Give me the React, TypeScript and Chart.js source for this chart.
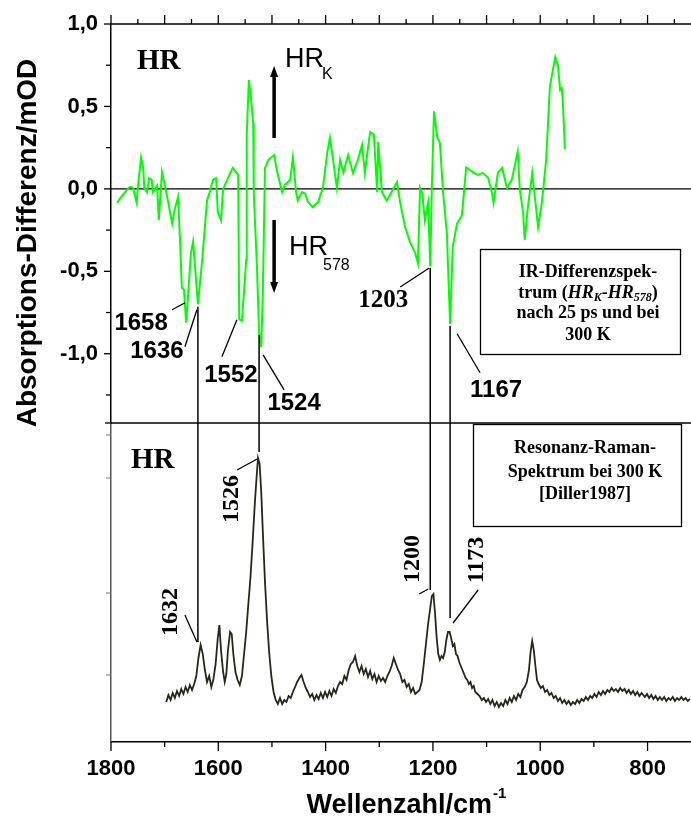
import React, { useEffect, useRef } from "react";
import { Chart, registerables } from "chart.js";

Chart.register(...registerables);

// IR difference spectrum (HR_K - HR_578): [wavenumber, mOD]
const irPoints: number[][] = [
  [1789, -0.085], [1778, -0.036], [1765, 0.012], [1759, 0.006], [1752, -0.085], [1750, 0.01],
  [1744, 0.19], [1740, 0.13], [1738, 0.006], [1733, -0.02], [1729, 0.065], [1724, 0.055],
  [1722, -0.02], [1714, 0.02], [1711, -0.19], [1705, 0.1], [1699, 0.01], [1694, -0.07],
  [1686, -0.21], [1681, -0.12], [1675, -0.05], [1671, -0.34], [1668, -0.6], [1664, -0.61],
  [1660, -0.81], [1657, -0.68], [1651, -0.39], [1647, -0.32], [1642, -0.53], [1638, -0.7],
  [1630, -0.43], [1621, -0.07], [1616, -0.02], [1610, 0.055], [1604, 0.065], [1601, -0.14],
  [1595, -0.19], [1591, 0.0], [1582, 0.065], [1573, 0.127], [1563, 0.085], [1561, -0.79],
  [1556, -0.8], [1552, -0.62], [1548, -0.43], [1547, 0.33], [1543, 0.66], [1539, 0.55],
  [1535, 0.4], [1534, -0.02], [1528, -0.47], [1524, -0.87], [1520, -0.96], [1517, -0.63],
  [1513, 0.127], [1507, 0.175], [1496, 0.205], [1491, 0.115], [1489, 0.085], [1481, -0.02],
  [1476, 0.024], [1466, 0.055], [1461, 0.19], [1455, -0.02], [1452, -0.07], [1444, -0.02],
  [1438, -0.03], [1433, -0.08], [1424, -0.11], [1414, -0.08], [1405, 0.006], [1397, 0.22],
  [1392, 0.31], [1386, 0.175], [1379, 0.006], [1373, 0.175], [1367, 0.1], [1358, 0.205],
  [1349, 0.095], [1340, 0.175], [1332, 0.267], [1327, 0.1], [1317, 0.345], [1310, 0.33],
  [1304, -0.02], [1302, 0.285], [1295, -0.02], [1286, -0.07], [1280, -0.036], [1267, 0.04],
  [1261, -0.085], [1252, -0.23], [1243, -0.32], [1233, -0.39], [1228, -0.45], [1224, 0.006],
  [1220, -0.024], [1215, -0.19], [1209, -0.085], [1205, -0.47], [1202, 0.012], [1198, 0.47],
  [1192, 0.315], [1187, 0.28], [1181, -0.024], [1174, -0.27], [1168, -0.82], [1163, -0.35],
  [1155, -0.21], [1146, -0.16], [1138, 0.13], [1131, 0.115], [1125, 0.1], [1116, 0.085],
  [1107, 0.097], [1097, 0.067], [1090, -0.024], [1087, -0.085], [1079, 0.097], [1071, 0.127],
  [1062, 0.006], [1053, 0.055], [1042, 0.225], [1038, -0.006], [1032, -0.14], [1029, -0.31],
  [1023, -0.11], [1015, 0.097], [1010, -0.048], [1004, -0.23], [997, -0.085], [989, 0.175],
  [982, 0.62], [972, 0.8], [967, 0.75], [963, 0.6], [960, 0.61], [958, 0.54], [954, 0.24],
];

// Resonance Raman spectrum (arbitrary intensity): [wavenumber, intensity]
const ramanPoints: number[][] = [
  [1697, 40], [1693, 47], [1689, 42], [1685, 49], [1681, 44], [1677, 51], [1673, 46], [1669, 53],
  [1665, 48], [1661, 55], [1657, 50], [1653, 57], [1649, 52], [1645, 58], [1641, 66], [1637, 84],
  [1633, 97], [1629, 88], [1625, 72], [1621, 60], [1617, 66], [1613, 55], [1609, 63], [1605, 78],
  [1601, 104], [1598, 117], [1595, 92], [1591, 70], [1588, 60], [1585, 68], [1582, 92], [1578, 110],
  [1575, 108], [1572, 88], [1568, 70], [1564, 62], [1560, 57], [1556, 66], [1552, 88], [1548, 110],
  [1544, 138], [1540, 165], [1536, 200], [1532, 238], [1529, 262], [1526, 284], [1523, 278], [1520, 250],
  [1517, 210], [1513, 160], [1509, 120], [1505, 88], [1501, 65], [1497, 50], [1493, 42], [1489, 38],
  [1485, 44], [1481, 38], [1477, 42], [1473, 40], [1469, 46], [1465, 44], [1461, 50], [1457, 55],
  [1453, 60], [1449, 64], [1445, 67], [1441, 60], [1437, 54], [1433, 50], [1429, 45], [1425, 48],
  [1421, 42], [1417, 47], [1413, 43], [1409, 49], [1405, 44], [1401, 50], [1397, 45], [1393, 51],
  [1389, 46], [1385, 53], [1381, 49], [1377, 56], [1373, 60], [1369, 58], [1365, 66], [1361, 62],
  [1357, 72], [1353, 78], [1349, 80], [1345, 86], [1341, 76], [1337, 70], [1333, 76], [1329, 68],
  [1325, 73], [1321, 65], [1317, 71], [1313, 63], [1309, 68], [1305, 60], [1301, 66], [1297, 61],
  [1293, 64], [1289, 60], [1285, 66], [1281, 70], [1277, 76], [1273, 84], [1269, 78], [1265, 72],
  [1261, 68], [1257, 60], [1253, 62], [1249, 55], [1245, 58], [1241, 50], [1237, 54], [1233, 48],
  [1229, 50], [1225, 52], [1221, 60], [1217, 78], [1213, 98], [1209, 118], [1205, 134], [1202, 146],
  [1199, 148], [1196, 128], [1193, 104], [1190, 88], [1187, 82], [1184, 86], [1181, 84], [1178, 90],
  [1175, 102], [1172, 110], [1169, 110], [1166, 104], [1163, 96], [1160, 98], [1157, 88], [1154, 86],
  [1151, 80], [1148, 76], [1145, 72], [1142, 68], [1139, 64], [1136, 62], [1133, 58], [1130, 60],
  [1127, 54], [1124, 56], [1121, 50], [1117, 48], [1113, 46], [1109, 42], [1105, 44], [1101, 40],
  [1097, 43], [1093, 38], [1089, 42], [1085, 36], [1081, 40], [1077, 35], [1073, 39], [1069, 36],
  [1065, 42], [1061, 38], [1057, 44], [1053, 40], [1049, 46], [1045, 42], [1041, 48], [1037, 45],
  [1033, 52], [1029, 55], [1025, 60], [1021, 72], [1018, 90], [1015, 101], [1012, 92], [1009, 76],
  [1006, 62], [1003, 58], [999, 54], [995, 56], [991, 50], [987, 52], [983, 47], [979, 49],
  [975, 44], [971, 46], [967, 41], [963, 44], [959, 39], [955, 42], [951, 38], [947, 41],
  [943, 37], [939, 40], [935, 38], [931, 42], [927, 39], [923, 43], [919, 41], [915, 45],
  [911, 42], [907, 46], [903, 44], [899, 48], [895, 45], [891, 50], [887, 47], [883, 51],
  [879, 48], [875, 52], [871, 50], [867, 54], [863, 51], [859, 53], [855, 50], [851, 54],
  [847, 51], [843, 53], [839, 49], [835, 52], [831, 48], [827, 51], [823, 47], [819, 50],
  [815, 46], [811, 49], [805, 45], [801, 48], [797, 44], [793, 47], [789, 43], [785, 46],
  [781, 42], [777, 45], [773, 42], [769, 45], [765, 41], [761, 44], [757, 42], [753, 45],
  [749, 41], [745, 44], [741, 42], [737, 45], [733, 42], [729, 44], [725, 41], [721, 43],
];

const xLabelValues = [1800, 1600, 1400, 1200, 1000, 800];
const yLabelValues = [1.0, 0.5, 0, -0.5, -1.0];
const ramanAxisTicks = [67, 149, 264, 307];

// Connector lines: wavenumber, IR value, Raman intensity
const connectorWave = [1638, 1524, 1205, 1168];
const connectorIr = [-0.715, -0.885, -0.48, -0.83];
const connectorRaman = [100, 290, 152, 124];

const irPeakLabels = ["1658", "1636", "1552", "1524", "1203", "1167"];
const ramanPeakLabels = ["1632", "1526", "1200", "1173"];

const SANS = '"Liberation Sans", Arial, sans-serif';
const SERIF = '"Liberation Serif", "Times New Roman", serif';

function line(ctx: CanvasRenderingContext2D, x1: number, y1: number, x2: number, y2: number, w = 1.3, c = "#000") {
  ctx.save();
  ctx.strokeStyle = c;
  ctx.lineWidth = w;
  ctx.beginPath();
  ctx.moveTo(x1, y1);
  ctx.lineTo(x2, y2);
  ctx.stroke();
  ctx.restore();
}

function text(ctx: CanvasRenderingContext2D, s: string, x: number, y: number, font: string, align: CanvasTextAlign = "center", rot = 0) {
  ctx.save();
  ctx.translate(x, y);
  if (rot) ctx.rotate(rot);
  ctx.font = font;
  ctx.fillStyle = "#000";
  ctx.textAlign = align;
  ctx.textBaseline = "middle";
  ctx.fillText(s, 0, 0);
  ctx.restore();
}

function richLine(ctx: CanvasRenderingContext2D, parts: { t: string; f: string; dy?: number }[], cx: number, cy: number) {
  ctx.save();
  ctx.fillStyle = "#000";
  ctx.textBaseline = "alphabetic";
  ctx.textAlign = "left";
  let total = 0;
  for (const p of parts) {
    ctx.font = p.f;
    total += ctx.measureText(p.t).width;
  }
  let x = cx - total / 2;
  for (const p of parts) {
    ctx.font = p.f;
    ctx.fillText(p.t, x, cy + (p.dy || 0));
    x += ctx.measureText(p.t).width;
  }
  ctx.restore();
}

function arrow(ctx: CanvasRenderingContext2D, x: number, yFrom: number, yTip: number) {
  const dir = yTip > yFrom ? 1 : -1;
  ctx.save();
  ctx.strokeStyle = "#000";
  ctx.fillStyle = "#000";
  ctx.lineWidth = 3.5;
  ctx.beginPath();
  ctx.moveTo(x, yFrom);
  ctx.lineTo(x, yTip - dir * 8);
  ctx.stroke();
  ctx.beginPath();
  ctx.moveTo(x, yTip);
  ctx.lineTo(x - 4, yTip - dir * 11);
  ctx.lineTo(x + 4, yTip - dir * 11);
  ctx.closePath();
  ctx.fill();
  ctx.restore();
}

const overlay = {
  id: "overlay",
  beforeDatasetsDraw(chart: any) {
    const { ctx, chartArea: a, scales } = chart;
    const y = scales.y;
    const y0 = y.getPixelForValue(0);
    line(ctx, a.left, y0, a.right, y0, 1.4);
    line(ctx, a.left, y.bottom, a.right, y.bottom, 1.6);
  },
  afterDatasetsDraw(chart: any) {
    const { ctx, chartArea: a, scales } = chart;
    const x = scales.x, y = scales.y, y2 = scales.y2;
    const X = (w: number) => x.getPixelForValue(w);
    const Y = (v: number) => y.getPixelForValue(v);
    const R = (r: number) => y2.getPixelForValue(r);

    // top axis line + ticks (upward)
    line(ctx, a.left, a.top, a.right, a.top, 1.5);
    for (let w = 1800; w >= x.min; w -= 50) {
      const px = X(w);
      const len = w % 100 === 0 ? 9 : 5;
      line(ctx, px, a.top, px, a.top - len, 1.3);
    }
    // bottom axis ticks (downward)
    for (let w = 1800; w >= x.min; w -= 100) {
      const px = X(w);
      const len = w % 200 === 0 ? 9 : 5;
      line(ctx, px, a.bottom, px, a.bottom + len, 1.3);
    }
    // left axis ticks (top panel)
    for (let v = 1.0; v >= -1.3; v -= 0.25) {
      const py = Y(v);
      const major = Math.abs(v * 2 - Math.round(v * 2)) < 1e-6;
      line(ctx, a.left, py, a.left - (major ? 7 : 5), py, 1.3);
    }
    line(ctx, a.left, y.bottom, a.left - 6, y.bottom, 1.3);
    // left axis faint ticks (bottom panel)
    for (const t of ramanAxisTicks) {
      const py = R(t);
      line(ctx, a.left, py, a.left - 5, py, 1, "#777");
    }

    // axis titles
    text(ctx, "Absorptions-Differenz/mOD", 28, 243, `bold 28px ${SANS}`, "center", -Math.PI / 2);
    ctx.save();
    ctx.font = `bold 27px ${SANS}`;
    const wMain = ctx.measureText("Wellenzahl/cm").width;
    ctx.font = `bold 15px ${SANS}`;
    const wSup = ctx.measureText("-1").width;
    ctx.restore();
    const tx = 406 - (wMain + wSup) / 2;
    text(ctx, "Wellenzahl/cm", tx, 806, `bold 27px ${SANS}`, "left");
    text(ctx, "-1", tx + wMain + 1, 794, `bold 15px ${SANS}`, "left");

    // panel labels
    text(ctx, "HR", 137, 62, `bold 29px ${SERIF}`, "left");
    text(ctx, "HR", 131, 461, `bold 29px ${SERIF}`, "left");

    // arrows and HR_K / HR_578
    const ax = X(1496);
    arrow(ctx, ax, 138, 66);
    arrow(ctx, ax, 220, 293);
    text(ctx, "HR", 285, 60, `27px ${SANS}`, "left");
    text(ctx, "K", 322, 75, `16px ${SANS}`, "left");
    text(ctx, "HR", 289, 248, `27px ${SANS}`, "left");
    text(ctx, "578", 323, 266, `16px ${SANS}`, "left");

    // vertical connectors
    for (let i = 0; i < connectorWave.length; i++) {
      const px = X(connectorWave[i]);
      line(ctx, px, Y(connectorIr[i]), px, R(connectorRaman[i]), 1.5);
    }

    // IR peak labels with leader lines
    const ir = connectorWave.map((w, i) => ({ x: X(w), y: Y(connectorIr[i]) }));
    const a1658 = { x: X(1660), y: Y(-0.8) };
    const a1552 = { x: X(1556), y: Y(-0.8) };
    const fSans = `bold 24px ${SANS}`;
    const fSerif = `bold 25px ${SERIF}`;
    // 1658
    line(ctx, a1658.x - 14, a1658.y - 11, a1658.x - 1, a1658.y - 18);
    text(ctx, irPeakLabels[0], a1658.x - 45, a1658.y + 3, fSans);
    // 1636
    line(ctx, ir[0].x - 13, ir[0].y + 40, ir[0].x - 1, ir[0].y + 3);
    text(ctx, irPeakLabels[1], ir[0].x - 41, ir[0].y + 45, fSans);
    // 1552
    line(ctx, a1552.x - 20, a1552.y + 36, a1552.x - 5, a1552.y - 1);
    text(ctx, irPeakLabels[2], a1552.x - 11, a1552.y + 55, fSans);
    // 1524
    line(ctx, ir[1].x + 4, ir[1].y + 20, ir[1].x + 25, ir[1].y + 55);
    text(ctx, irPeakLabels[3], ir[1].x + 35, ir[1].y + 69, fSans);
    // 1203
    line(ctx, ir[2].x - 30, ir[2].y + 19, ir[2].x - 1, ir[2].y);
    text(ctx, irPeakLabels[4], ir[2].x - 47, ir[2].y + 33, fSerif);
    // 1167
    line(ctx, ir[3].x + 7, ir[3].y + 8, ir[3].x + 30, ir[3].y + 47);
    text(ctx, irPeakLabels[5], ir[3].x + 46, ir[3].y + 65, fSans);

    // Raman peak labels (rotated)
    const rm = connectorWave.map((w, i) => ({ x: X(w), y: R(connectorRaman[i]) }));
    const fRot = `bold 24px ${SERIF}`;
    const up = -Math.PI / 2;
    // 1632
    line(ctx, rm[0].x - 13, rm[0].y - 27, rm[0].x - 1, rm[0].y);
    text(ctx, ramanPeakLabels[0], rm[0].x - 27, rm[0].y - 30, fRot, "center", up);
    // 1526
    line(ctx, rm[1].x - 22, rm[1].y + 18, rm[1].x - 2, rm[1].y + 7);
    text(ctx, ramanPeakLabels[1], rm[1].x - 27, rm[1].y + 47, fRot, "center", up);
    // 1200
    line(ctx, rm[2].x - 11, rm[2].y + 4, rm[2].x - 2, rm[2].y - 1);
    text(ctx, ramanPeakLabels[2], rm[2].x - 17, rm[2].y - 31, fRot, "center", up);
    // 1173
    line(ctx, rm[3].x + 3, rm[3].y + 5, rm[3].x + 28, rm[3].y - 28);
    text(ctx, ramanPeakLabels[3], rm[3].x + 27, rm[3].y - 58, fRot, "center", up);

    // legend boxes
    ctx.save();
    ctx.strokeStyle = "#000";
    ctx.lineWidth = 1.3;
    ctx.strokeRect(480.5, 249.5, 200, 105);
    ctx.strokeRect(473.5, 424.5, 208, 102);
    ctx.restore();
    const fb = `bold 18px ${SERIF}`;
    const fi = `italic bold 18px ${SERIF}`;
    const fs = `italic bold 12px ${SERIF}`;
    text(ctx, "IR-Differenzspek-", 588, 272, fb);
    richLine(ctx, [
      { t: "trum (", f: fb },
      { t: "HR", f: fi },
      { t: "K", f: fs, dy: 3 },
      { t: "-", f: fb },
      { t: "HR", f: fi },
      { t: "578", f: fs, dy: 3 },
      { t: ")", f: fb },
    ], 588, 298);
    text(ctx, "nach 25 ps und bei", 588, 313, fb);
    text(ctx, "300 K", 588, 335, fb);

    text(ctx, "Resonanz-Raman-", 585, 448, fb);
    text(ctx, "Spektrum bei 300 K", 585, 472, fb);
    text(ctx, "[Diller1987]", 585, 494, fb);
  },
};

export default function App() {
  const ref = useRef<HTMLCanvasElement>(null);
  useEffect(() => {
    const canvas = ref.current!;
    const chart = new Chart(canvas, {
      type: "line",
      data: {
        datasets: [
          {
            label: "IR",
            data: irPoints.map(([w, v]) => ({ x: w, y: v })),
            yAxisID: "y",
            borderColor: "#00ff00",
            borderWidth: 2,
            pointRadius: 0,
            tension: 0,
            fill: false,
          },
          {
            label: "Raman",
            data: ramanPoints.map(([w, r]) => ({ x: w, y: r })),
            yAxisID: "y2",
            borderColor: "#26261b",
            borderWidth: 1.8,
            pointRadius: 0,
            tension: 0,
            fill: false,
          },
        ],
      },
      options: {
        responsive: false,
        animation: false,
        devicePixelRatio: 1,
        events: [],
        layout: { padding: { top: 24, left: 0, right: 0, bottom: 0 } },
        plugins: { legend: { display: false }, tooltip: { enabled: false } },
        scales: {
          x: {
            type: "linear",
            position: "bottom",
            reverse: true,
            min: 719,
            max: 1800,
            afterBuildTicks: (s: any) => {
              s.ticks = xLabelValues.map((v) => ({ value: v }));
            },
            afterFit: (s: any) => {
              s.height = 89;
              s.paddingLeft = 0;
              s.paddingRight = 0;
            },
            ticks: {
              autoSkip: false,
              maxRotation: 0,
              padding: 14,
              color: "#000",
              font: { family: "Liberation Sans", size: 22, weight: "bold" },
              callback: (v: any) => String(v),
            },
            grid: { display: false, drawTicks: false },
            border: { display: true, color: "#000", width: 1.5 },
          },
          y: {
            type: "linear",
            position: "left",
            stack: "panels",
            stackWeight: 399,
            weight: 2,
            min: -1.42,
            max: 1.0,
            afterBuildTicks: (s: any) => {
              s.ticks = yLabelValues.map((v) => ({ value: v }));
            },
            afterFit: (s: any) => {
              s.width = 111;
              s.paddingTop = 0;
              s.paddingBottom = 0;
            },
            ticks: {
              autoSkip: false,
              padding: 13,
              color: "#000",
              font: { family: "Liberation Sans", size: 22, weight: "bold" },
              callback: (v: any) => Number(v).toFixed(1).replace(".", ","),
            },
            grid: { display: false, drawTicks: false },
            border: { display: true, color: "#000", width: 1.5 },
          },
          y2: {
            type: "linear",
            position: "left",
            stack: "panels",
            stackWeight: 319,
            weight: 1,
            min: 0,
            max: 319,
            afterFit: (s: any) => { s.width = 111; },
            ticks: { display: false },
            grid: { display: false, drawTicks: false },
            border: { display: true, color: "#555", width: 1.5 },
          },
        },
      } as any,
      plugins: [overlay],
    });
    return () => chart.destroy();
  }, []);
  return (
    <div style={{ position: "absolute", left: 0, top: 0, width: 691, height: 831, background: "#fff" }}>
      <canvas ref={ref} width={691} height={831} style={{ display: "block" }} />
    </div>
  );
}
